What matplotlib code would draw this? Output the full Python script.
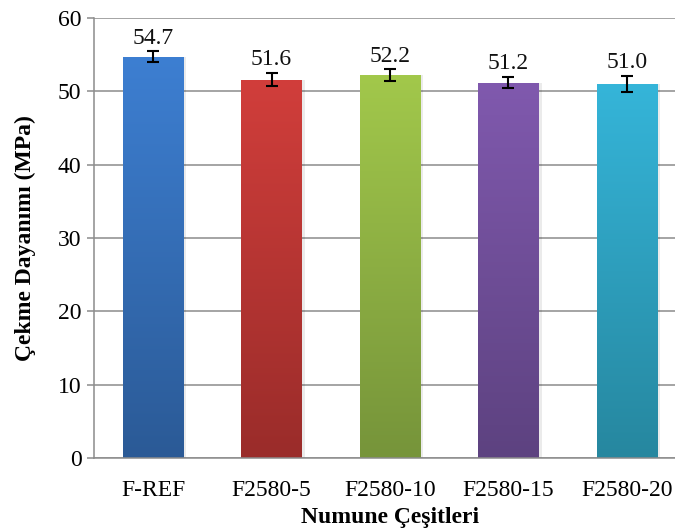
import numpy as np
import matplotlib
matplotlib.use("Agg")
import matplotlib.pyplot as plt
from matplotlib.colors import LinearSegmentedColormap

# Data
samples = ["F-REF", "F2580-5", "F2580-10", "F2580-15", "F2580-20"]
strength = [54.7, 51.6, 52.2, 51.2, 51.0]
std_err = [0.75, 0.9, 0.8, 0.8, 1.1]
value_labels = ["54.7", "51.6", "52.2", "51.2", "51.0"]

# gradient colours per bar (top, bottom)
top_colors = ["#3d7fd2", "#d13e3b", "#a2c84b", "#8059ae", "#35b5d9"]
bottom_colors = ["#2b5a96", "#9a2c2a", "#76943a", "#5d4280", "#26879f"]

plt.rcParams["font.family"] = ["Liberation Serif", "DejaVu Serif"]
grid_col = "#8c8c8c"

fig = plt.figure(figsize=(6.75, 5.32), dpi=100)
ax = fig.add_axes([94 / 675, 1 - 458 / 532, 592 / 675, 440 / 532])

x = np.arange(len(samples))
bars = ax.bar(x, strength, width=0.51, color="none", edgecolor="none", zorder=3)

# vertical gradient inside each bar
grad = np.linspace(0, 1, 256).reshape(-1, 1)
for b, c_top, c_bot in zip(bars, top_colors, bottom_colors):
    cm = LinearSegmentedColormap.from_list("g", [c_bot, c_top])
    x0, w, h = b.get_x(), b.get_width(), b.get_height()
    # soft shadow on the right
    ax.bar(x0 + w / 2 + 0.015, h, width=w + 0.02, color="#000000", alpha=0.08,
           zorder=2.5, edgecolor="none")
    im = ax.imshow(grad, cmap=cm, origin="lower", aspect="auto",
                   extent=[x0, x0 + w, 0, h], zorder=3)
    im.set_clip_path(b)

ax.errorbar(x, strength, yerr=std_err, fmt="none", ecolor="black",
            elinewidth=1.5, capsize=4.5, capthick=1.5, zorder=5)

for xi, v, e, lab in zip(x, strength, std_err, value_labels):
    ax.text(xi, v + e + 0.35, lab, ha="center", va="bottom", fontsize=17, color="#111111")

ax.set_xlim(-0.5, len(samples) - 0.5)
ax.set_ylim(0, 60)
ax.set_yticks(range(0, 61, 10))
ax.set_xticks(x)
ax.set_xticklabels(samples, fontsize=17)
ax.tick_params(axis="y", labelsize=17, length=5, width=1.1, color=grid_col, pad=4)
ax.tick_params(axis="x", length=0, pad=16)

ax.yaxis.grid(True, color=grid_col, linewidth=1.1, zorder=0)
ax.set_axisbelow(True)
for s in ["top", "right"]:
    ax.spines[s].set_visible(False)
for s in ["left", "bottom"]:
    ax.spines[s].set_color(grid_col)
    ax.spines[s].set_linewidth(1.1)
    ax.spines[s].set_zorder(4)

ax.set_ylabel("Çekme Dayanımı (MPa)", fontsize=17, fontweight="bold", labelpad=16)
ax.set_xlabel("Numune Çeşitleri", fontsize=17, fontweight="bold", labelpad=4)

fig.savefig("out.png", dpi=100)
